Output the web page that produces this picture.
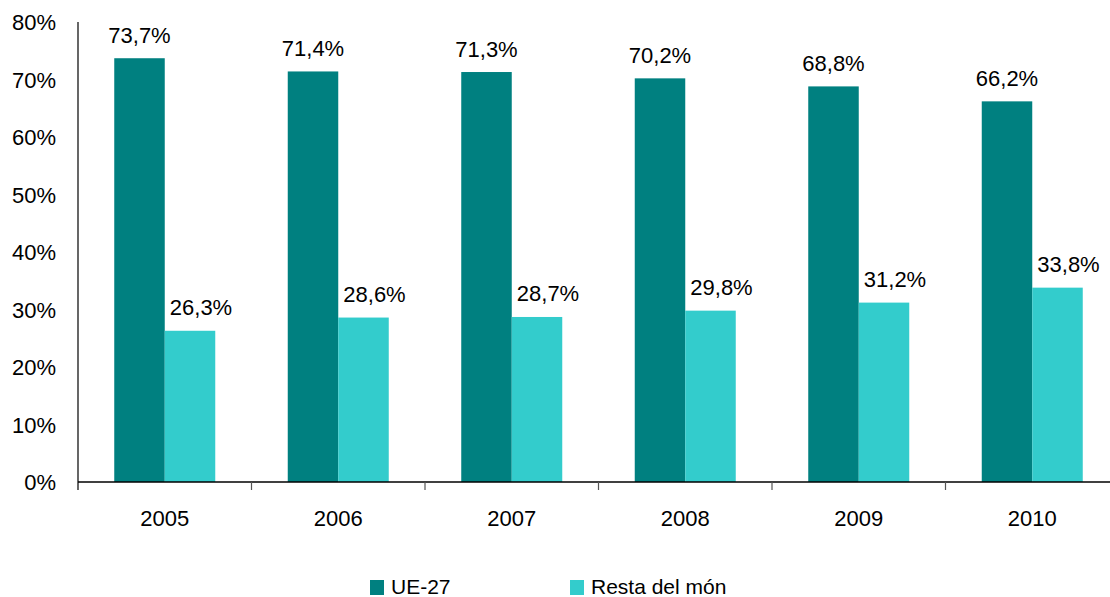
<!DOCTYPE html>
<html>
<head>
<meta charset="utf-8">
<script src="https://cdn.jsdelivr.net/npm/d3@7"></script>
<style>
  body { margin: 0; background: #fff; }
  text { font-family: "Liberation Sans", Arial, sans-serif; fill: #000; }
</style>
</head>
<body>
<div class="container"></div>
<script>
const years = ["2005", "2006", "2007", "2008", "2009", "2010"];
const seriesNames = ["UE-27", "Resta del món"];
const ue27 = [73.7, 71.4, 71.3, 70.2, 68.8, 66.2];
const restaMon = [26.3, 28.6, 28.7, 29.8, 31.2, 33.8];
const yTicks = [0, 10, 20, 30, 40, 50, 60, 70, 80];
const colors = ["#008080", "#33cccc"];

const width = 1110;
const height = 597;
const margin = { left: 78, top: 22, bottom: 115 };
const bandW = 173.5;
// light series labels sit a bit right of their bar in the original
const labelShift = [0, 11];

const svg = d3
  .select(".container")
  .append("svg")
  .attr("width", width)
  .attr("height", height);

const x = d3
  .scaleBand()
  .domain(years)
  .range([margin.left, margin.left + bandW * years.length]);
const y = d3
  .scaleLinear()
  .domain([0, 80])
  .range([height - margin.bottom, margin.top]);
const inner = d3
  .scaleBand()
  .domain([0, 1])
  .range([0, 101])
  .padding(0);

// y axis labels (no tick marks)
svg
  .append("g")
  .selectAll("text")
  .data(yTicks)
  .join("text")
  .attr("x", 56)
  .attr("y", d => y(d))
  .attr("dy", "0.38em")
  .attr("text-anchor", "end")
  .attr("font-size", 22)
  .text(d => d + "%");

const series = [ue27, restaMon];
const data = [];
years.forEach((yr, i) => {
  series.forEach((s, k) => data.push({ year: yr, k: k, v: s[i] }));
});

const fmt = v => d3.format(".1f")(v).replace(".", ",") + "%";
const barX = d => x(d.year) + x.bandwidth() / 2 - 50.5 + inner(d.k);

svg
  .append("g")
  .selectAll("rect")
  .data(data)
  .join("rect")
  .attr("x", barX)
  .attr("y", d => y(d.v))
  .attr("width", inner.bandwidth())
  .attr("height", d => y(0) - y(d.v))
  .attr("fill", d => colors[d.k]);

svg
  .append("g")
  .selectAll("text")
  .data(data)
  .join("text")
  .attr("x", d => barX(d) + inner.bandwidth() / 2 + labelShift[d.k])
  .attr("y", d => y(d.v) - 15.5)
  .attr("text-anchor", "middle")
  .attr("font-size", 22)
  .text(d => fmt(d.v));

// axes lines
svg
  .append("line")
  .attr("x1", margin.left)
  .attr("x2", margin.left)
  .attr("y1", y(80))
  .attr("y2", y(0) + 8)
  .attr("stroke", "#000")
  .attr("stroke-width", 1.2);

svg
  .append("line")
  .attr("x1", margin.left)
  .attr("x2", width)
  .attr("y1", y(0))
  .attr("y2", y(0))
  .attr("stroke", "#000")
  .attr("stroke-width", 1.5);

svg
  .append("g")
  .selectAll("line")
  .data(years.slice(1))
  .join("line")
  .attr("x1", d => x(d))
  .attr("x2", d => x(d))
  .attr("y1", y(0))
  .attr("y2", y(0) + 8)
  .attr("stroke", "#555")
  .attr("stroke-width", 1.2);

svg
  .append("g")
  .selectAll("text")
  .data(years)
  .join("text")
  .attr("x", d => x(d) + x.bandwidth() / 2)
  .attr("y", 526)
  .attr("text-anchor", "middle")
  .attr("font-size", 22)
  .text(d => d);

// legend
const legend = svg
  .append("g")
  .selectAll("g")
  .data(seriesNames)
  .join("g")
  .attr("transform", (d, i) => `translate(${370 + i * 200},580)`);
legend
  .append("rect")
  .attr("width", 14)
  .attr("height", 15)
  .attr("fill", (d, i) => colors[i]);
legend
  .append("text")
  .attr("x", 21)
  .attr("y", 14)
  .attr("font-size", 21)
  .text(d => d);
</script>
</body>
</html>
